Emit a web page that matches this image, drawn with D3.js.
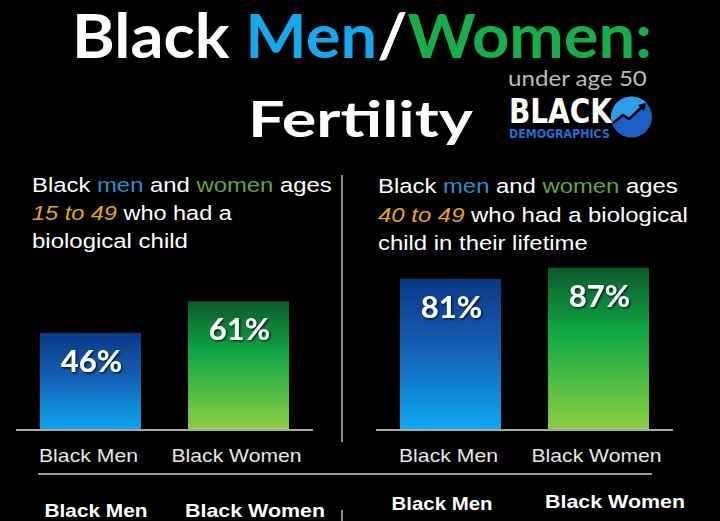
<!DOCTYPE html>
<html><head><meta charset="utf-8">
<script src="https://cdn.jsdelivr.net/npm/d3@7"></script>
<style>html,body{margin:0;padding:0;background:#000;overflow:hidden}</style>
</head><body>
<svg id="chart" width="720" height="521"></svg>
<script>
// ---------- data ----------
const categories = ["Black Men", "Black Women"];
const fertility15to49 = [46, 61];   // % who had a biological child, ages 15-49
const fertility40to49 = [81, 87];   // % who had a biological child in lifetime, ages 40-49
const valueFormat = d => d + "%";
const panel1Subtitle = [
  [{t:"Black "}, {t:"men", k:"men"}, {t:" and "}, {t:"women", k:"women"}, {t:" ages"}],
  [{t:"15 to 49", k:"age"}, {t:" who had a"}],
  [{t:"biological child"}]
];
const panel2Subtitle = [
  [{t:"Black "}, {t:"men", k:"men"}, {t:" and "}, {t:"women", k:"women"}, {t:" ages"}],
  [{t:"40 to 49", k:"age"}, {t:" who had a biological"}],
  [{t:"child in their lifetime"}]
];
const nextRowLabels = categories;

// ---------- setup ----------
const svg = d3.select("#chart");
svg.append("rect").attr("width", 720).attr("height", 521).attr("fill", "#000");
const defs = svg.append("defs");

function grad(id, stops) {
  const g = defs.append("linearGradient").attr("id", id)
    .attr("x1", 0).attr("y1", 0).attr("x2", 0).attr("y2", 1);
  stops.forEach(s => g.append("stop").attr("offset", s[0]).attr("stop-color", s[1]));
}
grad("gMen", [[0, "#0b3886"], [0.45, "#145fb4"], [1, "#0ea8f0"]]);
grad("gWomen", [[0, "#0b5a2b"], [0.4, "#10a845"], [1, "#8ccf42"]]);
const f = defs.append("filter").attr("id", "shadow").attr("x", "-20%").attr("y", "-20%").attr("width", "140%").attr("height", "140%");
f.append("feDropShadow").attr("dx", 1.2).attr("dy", 1.2).attr("stdDeviation", 1.2).attr("flood-color", "#000").attr("flood-opacity", 0.85);

const subColors = {men: "#2b8fc8", women: "#5ea543", age: "#e3a61f"};

function fitText(parent, o) {
  const g = parent.append("g");
  const t = g.append("text")
    .attr("font-family", o.family || "Liberation Sans, Arial, sans-serif")
    .attr("font-size", o.size)
    .attr("font-weight", o.weight || "normal")
    .attr("fill", o.fill || "#fff")
    .attr("text-anchor", o.anchor || "start");
  if (o.filter) t.attr("filter", o.filter);
  o.segments.forEach(s => {
    const ts = t.append("tspan").text(s.t);
    if (s.fill) ts.attr("fill", s.fill);
    if (s.italic) ts.attr("font-style", "italic");
  });
  const w = t.node().getComputedTextLength();
  const sx = o.width ? o.width / w : 1;
  g.attr("transform", `translate(${o.x},${o.y}) scale(${sx},1)`);
  return g;
}

// ---------- header ----------
const lato = "Lato, 'Open Sans', sans-serif";
fitText(svg, {x: 72, y: 58, width: 580, size: 62, weight: "bold", family: lato,
  segments: [{t:"Black ", fill:"#ffffff"}, {t:"Men", fill:"#15a8ec"}, {t:"/", fill:"#ffffff"}, {t:"Women:", fill:"#14ae4a"}]});
fitText(svg, {x: 248, y: 137, width: 225, size: 50, weight: "bold", family: lato,
  segments: [{t:"Fertility"}]});
fitText(svg, {x: 508, y: 86, width: 139, size: 21, family: lato, fill: "#bcbcbc",
  segments: [{t:"under age 50"}]});
// logo
fitText(svg, {x: 509, y: 123, width: 103, size: 33, weight: "bold", family: "'Liberation Sans Narrow', 'DejaVu Sans Condensed', Roboto, sans-serif",
  segments: [{t:"BLACK"}]});
fitText(svg, {x: 509, y: 138, width: 101, size: 12.5, weight: "bold", family: "'Liberation Sans Narrow', 'DejaVu Sans Condensed', Roboto, sans-serif", fill: "#1f6fd2",
  segments: [{t:"DEMOGRAPHICS"}]});
const cx = 631.5, cy = 117, r = 20.5;
defs.append("clipPath").attr("id", "logoClip").append("circle").attr("cx", cx).attr("cy", cy).attr("r", r);
const logo = svg.append("g");
logo.append("circle").attr("cx", cx).attr("cy", cy).attr("r", r).attr("fill", "#1c5cc4");
const zig = [[610, 125], [623, 115], [629, 119], [642, 107], [652, 100]];
logo.append("path").attr("clip-path", "url(#logoClip)")
  .attr("d", d3.line()([[600, 90], [600, 126], ...zig, [660, 90]]) + "Z")
  .attr("fill", "#2c9fea");
logo.append("path").attr("d", d3.line()([[613, 123], [623, 115], [629, 119], [642, 107]]))
  .attr("fill", "none").attr("stroke", "#000").attr("stroke-width", 2.5).attr("stroke-linejoin", "round");
logo.append("path").attr("d", d3.line()([[638, 105], [646, 103], [644, 111]]) + "Z").attr("fill", "#000");

// ---------- panels ----------
const catLabelWidths = [99, 130];
function panel(ox, values, maxH, subtitle, subWidths, subY) {
  const g = svg.append("g").attr("transform", `translate(${ox},0)`);
  const baseY = 430;
  const x = d3.scaleBand().domain(categories).range([40, 289]).paddingInner(0.318).paddingOuter(0);
  const y = d3.scaleLinear().domain([0, 100]).range([baseY, baseY - maxH]);

  subtitle.forEach((line, i) => {
    fitText(g, {x: 32 + (ox ? -14 : 0), y: subY[i], width: subWidths[i], size: 19.5,
      segments: line.map(s => ({t: s.t, fill: s.k ? subColors[s.k] : null, italic: s.k === "age"}))});
  });

  g.selectAll("rect.bar").data(values).join("rect").attr("class", "bar")
    .attr("x", (d, i) => x(categories[i])).attr("width", x.bandwidth())
    .attr("y", d => y(d)).attr("height", d => baseY - y(d))
    .attr("fill", (d, i) => i === 0 ? "url(#gMen)" : "url(#gWomen)");

  g.selectAll("text.val").data(values).join("text").attr("class", "val")
    .attr("x", (d, i) => x(categories[i]) + x.bandwidth() / 2 + 1)
    .attr("y", d => y(d) + 39)
    .attr("text-anchor", "middle").attr("fill", "#fff")
    .attr("font-family", lato).attr("font-weight", "bold").attr("font-size", 31)
    .attr("filter", "url(#shadow)")
    .text(valueFormat);

  g.append("line").attr("x1", 16).attr("x2", 313).attr("y1", baseY).attr("y2", baseY)
    .attr("stroke", "#a9a9a9").attr("stroke-width", 2);

  const ax = g.append("g").attr("transform", `translate(0,${baseY})`)
    .call(d3.axisBottom(x).tickSize(0).tickPadding(18.5));
  ax.select(".domain").remove();
  ax.selectAll("text").attr("fill", "#e6e6e6").attr("font-size", 18.6)
    .attr("font-family", "Liberation Sans, Arial, sans-serif")
    .attr("dx", "-2px")
    .attr("lengthAdjust", "spacingAndGlyphs")
    .attr("textLength", (d, i) => catLabelWidths[i]);
  return x;
}
panel(0, fertility15to49, 211, panel1Subtitle, [300, 200, 156], [192, 220, 248]);
panel(360, fertility40to49, 186.5, panel2Subtitle, [300, 310, 210], [193, 222, 250]);

// dividers
svg.append("line").attr("x1", 342).attr("x2", 342).attr("y1", 175).attr("y2", 442)
  .attr("stroke", "#8a8a8a").attr("stroke-width", 2);
svg.append("line").attr("x1", 342).attr("x2", 342).attr("y1", 510).attr("y2", 521)
  .attr("stroke", "#8a8a8a").attr("stroke-width", 2);
svg.append("line").attr("x1", 38).attr("x2", 652).attr("y1", 474).attr("y2", 474)
  .attr("stroke", "#9a9a9a").attr("stroke-width", 2);

// next row headings (cut off)
const nextRow = [
  {x: 96, y: 517, w: 103}, {x: 255, y: 517, w: 140},
  {x: 442, y: 510, w: 101}, {x: 615, y: 508, w: 140}
];
nextRow.forEach((p, i) => {
  fitText(svg, {x: p.x, y: p.y, width: p.w, size: 18.6, weight: "bold", anchor: "middle",
    segments: [{t: nextRowLabels[i % 2]}]});
});
</script>
</body></html>
